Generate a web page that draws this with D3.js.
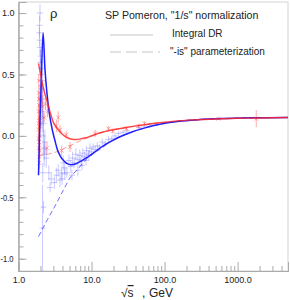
<!DOCTYPE html>
<html><head><meta charset="utf-8">
<script src="https://cdn.jsdelivr.net/npm/d3@7"></script>
<style>
html,body{margin:0;padding:0;background:#fff;}
text{font-family:"Liberation Sans",Arial,sans-serif;}
</style></head>
<body><svg id="c" width="290" height="300"></svg>
<script>
// ---- data ----
const xMajorTicks = [1, 10, 100, 1000];
const xTickLabels = ["1.0", "10.0", "100.0", "1000.0"];
const yMajorTicks = [-1.0, -0.5, 0.0, 0.5, 1.0];
const yTickLabels = ["-1.0", "-0.5", "0.0", "0.5", "1.0"];

// model curves (sqrt(s) in GeV, rho)
const redSolidS   = [1.88, 1.95, 2.05, 2.15, 2.3, 2.5, 2.75, 3.0, 3.4, 3.9, 4.5, 5.2, 6.2, 7.5, 9, 11, 14, 18, 25, 35, 54, 80, 130, 250, 500, 1000, 2000, 4900];
const redSolidRho = [0.59, 0.54, 0.47, 0.41, 0.34, 0.27, 0.18, 0.11, 0.06, 0.02, -0.01, -0.025, -0.03, -0.02, -0.01, 0.01, 0.03, 0.045, 0.06, 0.075, 0.092, 0.105, 0.118, 0.13, 0.138, 0.143, 0.146, 0.15];
const blueSolidS   = [1.88, 1.95, 2.05, 2.17, 2.3, 2.45, 2.65, 2.9, 3.16, 3.4, 3.7, 4.2, 4.8, 5.4, 6.2, 7.2, 8.5, 10, 12, 15, 19, 25, 35, 54, 86, 150, 300, 700, 1500, 4900];
const blueSolidRho = [-0.32, 0.05, 0.45, 0.84, 0.55, 0.35, 0.18, 0.05, -0.04, -0.11, -0.16, -0.205, -0.23, -0.235, -0.225, -0.205, -0.18, -0.15, -0.115, -0.075, -0.04, -0.005, 0.03, 0.065, 0.095, 0.118, 0.133, 0.142, 0.147, 0.15];
const blueDashS   = [1.88, 2.5, 3.3, 4.3, 5.1, 6.5, 8.2, 10, 13, 19, 35, 86, 300, 1500, 4900];
const blueDashRho = [-0.82, -0.68, -0.55, -0.42, -0.34, -0.27, -0.2, -0.155, -0.11, -0.04, 0.03, 0.095, 0.133, 0.147, 0.15];
const redDashS   = [1.9, 2.5, 3.3, 4.3, 5.5, 7, 9, 11, 14, 18, 35, 80, 250, 1000, 4900];
const redDashRho = [-0.16, -0.15, -0.13, -0.1, -0.07, -0.04, -0.015, 0.005, 0.028, 0.045, 0.075, 0.105, 0.13, 0.143, 0.15];

// pp data (blue)
const ppS   = [1.97, 1.93, 1.95, 1.96, 2.0, 2.05, 2.1, 2.12, 2.15, 2.2, 2.13, 2.2, 2.15, 2.25, 2.3,
               1.94, 1.99, 2.02, 2.08, 2.11, 2.18, 2.24, 2.4, 2.6,
               2.7, 2.8, 3.1, 3.3, 3.5, 3.7, 3.9, 4.1, 4.3, 4.6, 4.9, 5.2, 5.5, 5.8, 6.1, 6.5, 6.9, 7.2, 7.6, 8.0, 8.5, 9.0, 9.5, 10.0, 10.5, 11.2, 12, 13, 14, 15.5, 17, 19, 21, 23.5, 27, 30.6, 44.7, 52.8, 62.5,
               3.95, 4.3, 5.4, 6.5, 7.4, 8.4, 9.2];
const ppRho = [1.0, 0.84, 0.78, 0.72, 0.65, 0.55, 0.45, 0.3, 0.2, 0.1, -0.75, -0.58, -0.3, -0.15, -0.05,
               0.9, 0.6, 0.5, 0.38, 0.15, 0.0, -0.1, -0.18, -0.3,
               -0.42, -0.35, -0.38, -0.32, -0.28, -0.36, -0.3, -0.22, -0.26, -0.3, -0.2, -0.25, -0.18, -0.22, -0.15, -0.19, -0.16, -0.2, -0.14, -0.17, -0.12, -0.15, -0.1, -0.13, -0.09, -0.11, -0.08, -0.09, -0.05, -0.06, -0.03, -0.02, 0.0, 0.02, 0.03, 0.04, 0.07, 0.08, 0.09,
               -0.35, -0.31, -0.32, -0.28, -0.24, -0.2, -0.16];
const ppErr = [0.07, 0.05, 0.05, 0.06, 0.06, 0.08, 0.1, 0.15, 0.1, 0.1, 0.35, 0.05, 0.08, 0.1, 0.1,
               0.08, 0.1, 0.12, 0.1, 0.12, 0.15, 0.1, 0.08, 0.06,
               0.04, 0.05, 0.05, 0.06, 0.05, 0.06, 0.05, 0.06, 0.05, 0.04, 0.05, 0.05, 0.05, 0.04, 0.05, 0.04, 0.05, 0.05, 0.04, 0.04, 0.04, 0.03, 0.04, 0.03, 0.03, 0.03, 0.03, 0.02, 0.03, 0.02, 0.03, 0.02, 0.02, 0.02, 0.02, 0.02, 0.02, 0.02, 0.02,
               0.05, 0.05, 0.04, 0.05, 0.04, 0.04, 0.04];

// pbar-p data (red)
const pbS   = [1.90, 1.91, 1.92, 1.93, 1.88, 1.89, 1.90, 1.91, 1.92, 1.94, 1.95, 1.97, 2.0, 2.03, 2.06, 2.1, 2.15, 2.25, 2.35, 2.5, 2.45,
               1.885, 1.895, 1.905, 1.915, 1.925, 1.96, 1.98,
               3.3, 3.5, 3.7, 3.9, 4.5, 5.07, 11.2, 17, 19.5, 30, 44, 53, 546, 1800];
const pbRho = [0.45, 0.35, 0.25, 0.12, 0.05, -0.02, -0.1, -0.17, -0.22, 0.0, 0.08, 0.2, 0.3, 0.4, 0.28, 0.32, 0.24, 0.15, 0.26, 0.2, -0.1,
               0.2, 0.1, 0.3, -0.05, 0.15, -0.12, 0.1,
               0.08, 0.15, 0.05, -0.12, 0.01, -0.09, 0.02, 0.06, 0.04, 0.06, 0.08, 0.1, 0.14, 0.14];
const pbErr = [0.05, 0.06, 0.08, 0.05, 0.1, 0.1, 0.08, 0.06, 0.05, 0.1, 0.06, 0.05, 0.05, 0.06, 0.05, 0.05, 0.04, 0.04, 0.05, 0.05, 0.05,
               0.06, 0.05, 0.07, 0.06, 0.05, 0.06, 0.05,
               0.05, 0.05, 0.04, 0.04, 0.03, 0.04, 0.03, 0.02, 0.02, 0.02, 0.02, 0.02, 0.01, 0.07];

// ---- chart ----
const svg = d3.select("#c");
const x = d3.scaleLog().domain([1, 4900]).range([18.5, 288]);
const y = d3.scaleLinear().domain([-1.1, 1.09]).range([271, 2]);

// frame
svg.append("rect").attr("x", x.range()[0]).attr("y", y.range()[1])
  .attr("width", x.range()[1] - x.range()[0]).attr("height", y.range()[0] - y.range()[1])
  .attr("fill", "none").attr("stroke", "#d4d4d4").attr("stroke-width", 1);

const zip = (a, b) => a.map((v, i) => [v, b[i]]);
const line = d3.line().x(d => x(d[0])).y(d => y(d[1])).curve(d3.curveMonotoneX);

// data points
const pp = ppS.map((s, i) => ({s, r: ppRho[i], e: ppErr[i]}));
const pb = pbS.map((s, i) => ({s, r: pbRho[i], e: pbErr[i]}));
const gpp = svg.append("g").attr("stroke", "rgba(90,90,255,0.32)").attr("stroke-width", 1);
gpp.selectAll("line.e").data(pp).join("line").attr("class", "e")
  .attr("x1", d => x(d.s)).attr("x2", d => x(d.s))
  .attr("y1", d => y(d.r - d.e)).attr("y2", d => y(d.r + d.e));
gpp.selectAll("line.h").data(pp).join("line").attr("class", "h")
  .attr("x1", d => x(d.s) - 3).attr("x2", d => x(d.s) + 3)
  .attr("y1", d => y(d.r)).attr("y2", d => y(d.r));
const gpb = svg.append("g").attr("stroke", "rgba(255,90,90,0.5)").attr("stroke-width", 1);
gpb.selectAll("line.e").data(pb).join("line").attr("class", "e")
  .attr("x1", d => x(d.s)).attr("x2", d => x(d.s))
  .attr("y1", d => y(d.r - d.e)).attr("y2", d => y(d.r + d.e));
gpb.selectAll("line.a").data(pb).join("line").attr("class", "a")
  .attr("x1", d => x(d.s) - 2).attr("x2", d => x(d.s) + 2)
  .attr("y1", d => y(d.r) - 2).attr("y2", d => y(d.r) + 2);
gpb.selectAll("line.b").data(pb).join("line").attr("class", "b")
  .attr("x1", d => x(d.s) - 2).attr("x2", d => x(d.s) + 2)
  .attr("y1", d => y(d.r) + 2).attr("y2", d => y(d.r) - 2);

// curves
svg.append("path").datum(zip(redDashS, redDashRho)).attr("d", line)
  .attr("fill", "none").attr("stroke", "rgba(255,70,70,0.55)").attr("stroke-width", 1).attr("stroke-dasharray", "5,3");
svg.append("path").datum(zip(blueDashS, blueDashRho)).attr("d", line)
  .attr("fill", "none").attr("stroke", "rgba(50,50,255,0.7)").attr("stroke-width", 1).attr("stroke-dasharray", "5,3");
svg.append("path").datum(zip(blueSolidS, blueSolidRho)).attr("d", line)
  .attr("fill", "none").attr("stroke", "#1f1fff").attr("stroke-width", 1.5);
svg.append("path").datum(zip(redSolidS, redSolidRho)).attr("d", line)
  .attr("fill", "none").attr("stroke", "rgba(255,40,40,0.85)").attr("stroke-width", 1.4);

// axes
const minorX = [];
for (let d = 1; d <= 1000; d *= 10) for (let k = 2; k <= 9; k++) if (d * k <= 4900) minorX.push(d * k);
const axColor = "#aaa";
const gxMin = svg.append("g").attr("transform", `translate(0,${y.range()[0]})`)
  .call(d3.axisBottom(x).tickValues(minorX).tickSize(-5).tickFormat(""));
const gx = svg.append("g").attr("transform", `translate(0,${y.range()[0]})`)
  .call(d3.axisBottom(x).tickValues(xMajorTicks).tickSize(-9).tickPadding(6)
    .tickFormat((d, i) => xTickLabels[i]));
const minorY = d3.range(-11, 11).map(v => v / 10);
const gyMin = svg.append("g").attr("transform", `translate(${x.range()[0]},0)`)
  .call(d3.axisLeft(y).tickValues(minorY).tickSize(-5).tickFormat(""));
const gy = svg.append("g").attr("transform", `translate(${x.range()[0]},0)`)
  .call(d3.axisLeft(y).tickValues(yMajorTicks).tickSize(-8).tickPadding(4)
    .tickFormat((d, i) => yTickLabels[i]));
[gxMin, gx, gyMin, gy].forEach(g => {
  g.selectAll("path.domain").attr("stroke", axColor);
  g.selectAll(".tick line").attr("stroke", axColor);
  g.selectAll("text").attr("fill", "#222").style("font-size", "9px")
    .style("font-family", '"Liberation Sans",Arial,sans-serif');
});
gy.selectAll(".tick text")
  .attr("x", d => d < 0 ? -x.range()[0] + 0.5 : -4)
  .attr("text-anchor", d => d < 0 ? "start" : "end")
  .attr("textLength", d => d < 0 ? 13 : null)
  .attr("lengthAdjust", "spacingAndGlyphs");

// labels
svg.append("text").attr("x", 50).attr("y", 18).style("font-size", "13px").attr("fill", "#222").text("ρ");
svg.append("text").attr("x", 105).attr("y", 19).style("font-size", "10.6px").attr("fill", "#222")
  .text('SP Pomeron, "1/s" normalization');
// legend
svg.append("line").attr("x1", 110).attr("x2", 153).attr("y1", 35).attr("y2", 35).attr("stroke", "#c4c4c4");
svg.append("text").attr("x", 172).attr("y", 37).style("font-size", "10px").attr("fill", "#222").text("Integral DR");
svg.append("line").attr("x1", 110).attr("x2", 160).attr("y1", 52).attr("y2", 52).attr("stroke", "#c4c4c4").attr("stroke-dasharray", "11,5");
svg.append("text").attr("x", 170).attr("y", 55).style("font-size", "10px").attr("fill", "#222").text('"-is" parameterization');
// x title
const xt = svg.append("text").attr("x", 121).attr("y", 297).style("font-size", "12px").attr("fill", "#222");
xt.append("tspan").text("√");
xt.append("tspan").style("text-decoration", "overline").text("s");
svg.append("text").attr("x", 142).attr("y", 297).style("font-size", "12px").attr("fill", "#222").text(",");
svg.append("text").attr("x", 149).attr("y", 297).style("font-size", "12px").attr("fill", "#222").text("GeV");
</script></body></html>
